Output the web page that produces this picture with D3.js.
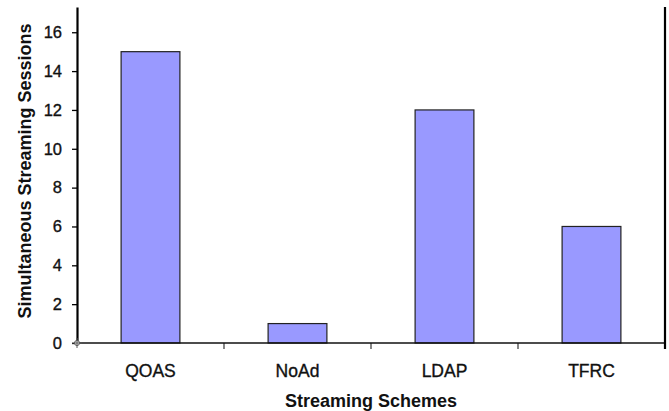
<!DOCTYPE html>
<html>
<head>
<meta charset="utf-8">
<script src="https://cdn.jsdelivr.net/npm/d3@7"></script>
<style>
  html, body { margin: 0; padding: 0; background: #fff; }
  svg { display: block; font-family: "Liberation Sans", Arial, sans-serif; }
  .lbl { stroke: #111; stroke-width: 0.35px; }
</style>
</head>
<body>
<svg id="chart" width="669" height="411"></svg>
<script>
// Streaming schemes and the number of simultaneous sessions each supports
const schemes = ["QOAS", "NoAd", "LDAP", "TFRC"];
const sessions = [15, 1, 12, 6];
const yTicks = [0, 2, 4, 6, 8, 10, 12, 14, 16];
const yAxisMax = 17.3;

const svg = d3.select("#chart");
const plotLeft = 77, plotRight = 665, plotTop = 7, plotBottom = 343;

const x = d3.scaleBand()
  .domain(schemes)
  .range([plotLeft, plotRight])
  .paddingInner(0.6)
  .paddingOuter(0.3);

const y = d3.scaleLinear()
  .domain([0, yAxisMax])
  .range([plotBottom, plotTop]);

// bars
svg.append("g")
  .selectAll("rect")
  .data(schemes)
  .join("rect")
  .attr("x", d => x(d))
  .attr("y", (d, i) => y(sessions[i]))
  .attr("width", x.bandwidth())
  .attr("height", (d, i) => y(0) - y(sessions[i]))
  .attr("fill", "#9999ff")
  .attr("stroke", "#222")
  .attr("stroke-width", 1.2);

// y axis
const yAxis = svg.append("g")
  .attr("transform", `translate(${plotLeft},0)`)
  .call(d3.axisLeft(y).tickValues(yTicks).tickSize(5).tickPadding(10).tickSizeOuter(0));
yAxis.select(".domain").attr("stroke", "#000").attr("stroke-width", 2.2);
yAxis.selectAll(".tick line").attr("stroke", "#000").attr("stroke-width", 1.3);
yAxis.selectAll(".tick text")
  .attr("class", "lbl")
  .attr("font-size", 16.5)
  .attr("fill", "#111")
  .attr("font-family", "Liberation Sans, Arial, sans-serif");

// x axis: category ticks sit on the boundaries between slots
const step = x.step();
const boundaries = d3.range(1, schemes.length + 1).map(i => plotLeft + i * step);
svg.append("g")
  .selectAll("line")
  .data(boundaries)
  .join("line")
  .attr("x1", d => d).attr("x2", d => d)
  .attr("y1", plotBottom).attr("y2", plotBottom + 6)
  .attr("stroke", "#444").attr("stroke-width", 1.3);

svg.append("line")
  .attr("x1", plotLeft).attr("x2", plotRight)
  .attr("y1", y(0)).attr("y2", y(0))
  .attr("stroke", "#111").attr("stroke-width", 1.6);

// right frame edge
svg.append("line")
  .attr("x1", plotRight).attr("x2", plotRight)
  .attr("y1", plotTop).attr("y2", plotBottom + 6)
  .attr("stroke", "#000").attr("stroke-width", 2.2);

// category labels
svg.append("g")
  .selectAll("text")
  .data(schemes)
  .join("text")
  .attr("class", "lbl")
  .attr("x", d => x(d) + x.bandwidth() / 2)
  .attr("y", 377)
  .attr("text-anchor", "middle")
  .attr("font-size", 17.5)
  .attr("fill", "#111")
  .text(d => d);

// origin marker
const origin = svg.append("g").attr("transform", `translate(${plotLeft},${y(0)})`);
origin.append("circle").attr("r", 2.5).attr("fill", "#fff").attr("stroke", "#555").attr("stroke-width", 1);
origin.append("path").attr("d", "M-5,0H5M0,-5V5").attr("stroke", "#555").attr("stroke-width", 1);

// axis titles
svg.append("text")
  .attr("x", (plotLeft + plotRight) / 2)
  .attr("y", 407)
  .attr("text-anchor", "middle")
  .attr("font-size", 18)
  .attr("font-weight", "bold")
  .attr("fill", "#111")
  .text("Streaming Schemes");

svg.append("text")
  .attr("transform", `translate(31,171) rotate(-90)`)
  .attr("text-anchor", "middle")
  .attr("font-size", 18)
  .attr("font-weight", "bold")
  .attr("fill", "#111")
  .text("Simultaneous Streaming Sessions");
</script>
</body>
</html>
